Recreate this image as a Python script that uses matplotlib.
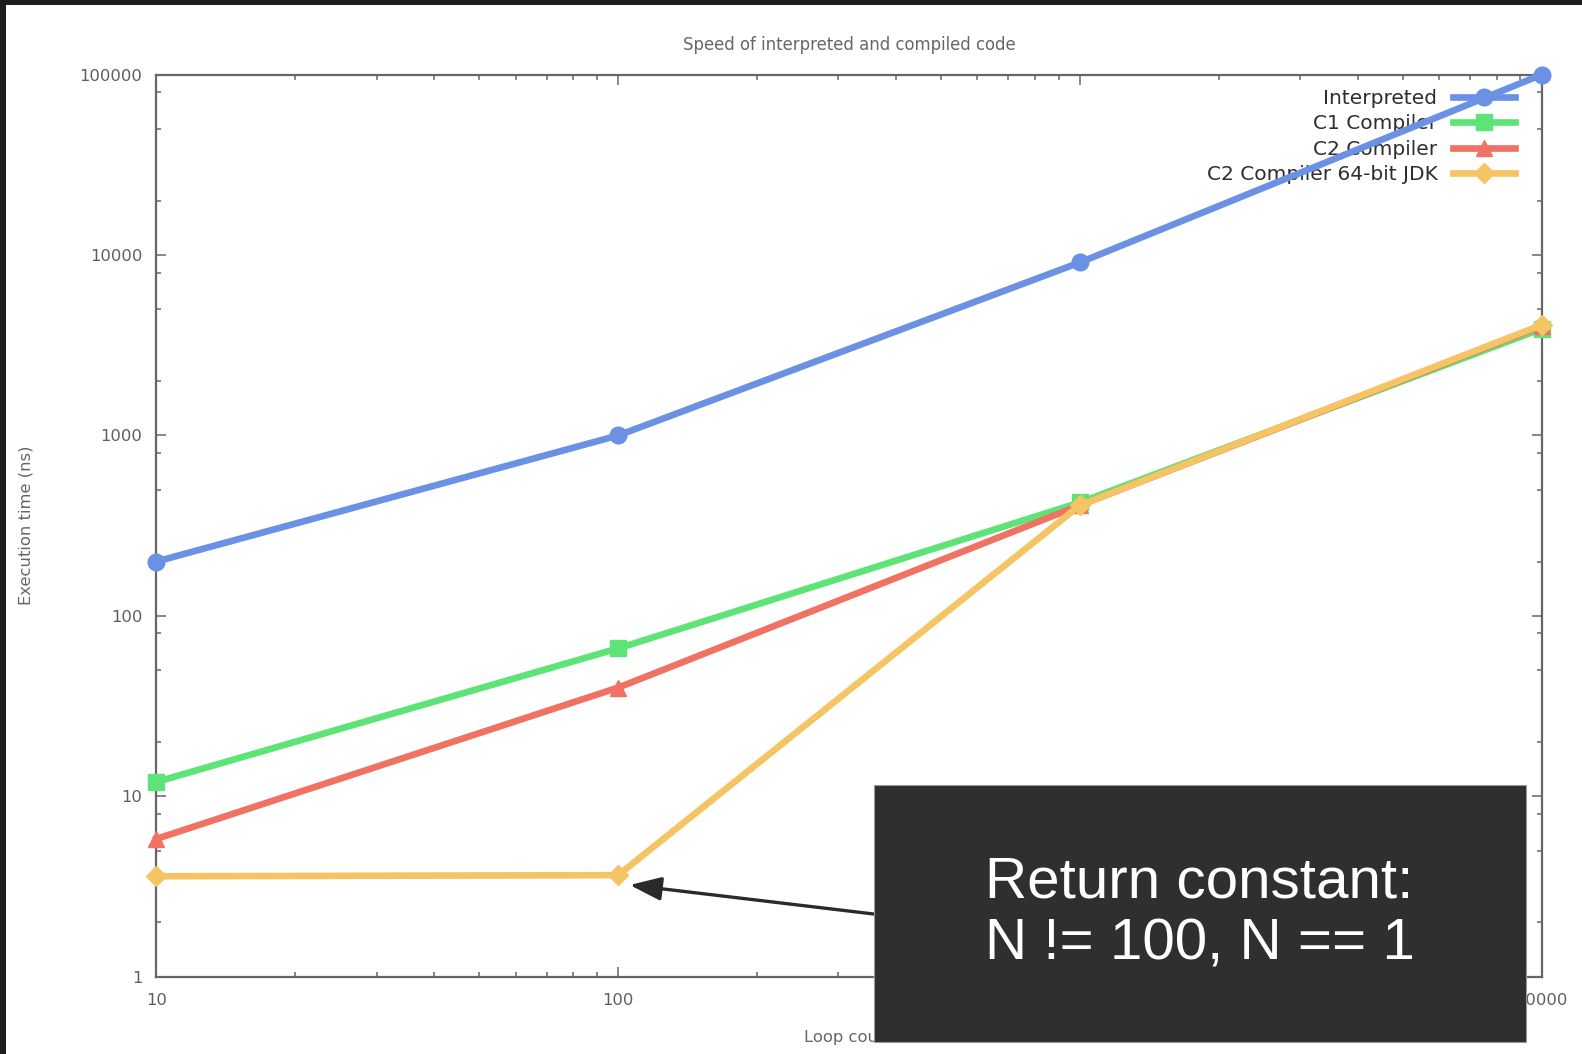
import matplotlib
matplotlib.use('Agg')
import matplotlib.pyplot as plt
from matplotlib.patches import Rectangle
from matplotlib.ticker import FixedLocator, FixedFormatter, NullFormatter

# loop counts and measured execution times (ns)
loop_count = [10, 100, 1000, 10000]
interpreted = [200, 1000, 9100, 100000]
c1_compiler = [12, 66, 425, 3900]
c2_compiler = [5.8, 40, 410, 4050]
c2_compiler_64 = [3.6, 3.65, 410, 4100]

series_names = ["Interpreted", "C1 Compiler", "C2 Compiler", "C2 Compiler 64-bit JDK"]
series_values = [interpreted, c1_compiler, c2_compiler, c2_compiler_64]
series_colors = ["#6a91e4", "#5ee476", "#f07262", "#f5c464"]
series_markers = ["o", "s", "^", "D"]
series_msize = [12, 11, 12, 10]

y_ticks = [1, 10, 100, 1000, 10000, 100000]
x_ticks = [10, 100, 1000, 10000]

W, H = 1582, 1054
fig = plt.figure(figsize=(W / 100, H / 100), dpi=100)
fig.patch.set_facecolor("#1e1e1e")
fig.add_artist(Rectangle((6 / W, 0), 1 - 6 / W, 1 - 5 / H, transform=fig.transFigure,
                         facecolor="white", edgecolor="none", zorder=-1))

ax_left, ax_right, ax_top, ax_bottom = 156.4, 1541.6, 74.7, 976.6
ax = fig.add_axes([ax_left / W, 1 - ax_bottom / H, (ax_right - ax_left) / W, (ax_bottom - ax_top) / H])

for name, vals, col, mk, ms in zip(series_names, series_values, series_colors, series_markers, series_msize):
    ax.plot(loop_count, vals, color=col, lw=4.8, marker=mk, markersize=ms,
            markeredgecolor=col, label=name, clip_on=False, zorder=3)

ax.set_xscale("log")
ax.set_yscale("log")
ax.set_xlim(10, 10000)
ax.set_ylim(1, 100000)

ax.xaxis.set_major_locator(FixedLocator(x_ticks))
ax.xaxis.set_major_formatter(FixedFormatter([str(v) for v in x_ticks]))
ax.xaxis.set_minor_locator(FixedLocator([m * 10 ** e for e in range(1, 4) for m in range(2, 10)]))
ax.xaxis.set_minor_formatter(NullFormatter())
ax.yaxis.set_major_locator(FixedLocator(y_ticks))
ax.yaxis.set_major_formatter(FixedFormatter([str(v) for v in y_ticks]))
ax.yaxis.set_minor_locator(FixedLocator([m * 10 ** e for e in range(0, 5) for m in (2, 5, 8)]))
ax.yaxis.set_minor_formatter(NullFormatter())

for s in ax.spines.values():
    s.set_color("#666666")
    s.set_linewidth(1.6)
ax.tick_params(which="both", direction="in", top=True, right=True, color="#666666",
               width=1.1, labelcolor="#5e5e5e", labelsize=11.8)
ax.tick_params(which="major", length=7.2)
ax.tick_params(which="minor", length=3.6)
ax.tick_params(axis="x", pad=12)
ax.tick_params(axis="y", pad=10)

ax.set_title("Speed of interpreted and compiled code", fontsize=11.9, color="#666666", pad=18)
ax.set_ylabel("Execution time (ns)", fontsize=11.8, color="#666666")
ax.yaxis.set_label_coords(-0.089, 0.5)
ax.set_xlabel("Loop count", fontsize=11.8, color="#666666")
ax.xaxis.set_label_coords(0.5, -0.059)

leg = ax.legend(loc="upper right", bbox_to_anchor=(1515 / W, 1 - 89 / H), bbox_transform=fig.transFigure,
                frameon=False, markerfirst=False, fontsize=14.5, handlelength=3.1,
                handletextpad=0.75, labelspacing=0.32, borderpad=0, borderaxespad=0)
for t in leg.get_texts():
    t.set_color("#2e2e2e")
leg.set_zorder(1)

# callout box with the arrow pointing at the flat 64-bit point
bx0, bx1, by0, by1 = 873.7, 1525.5, 785, 1042
fig.add_artist(Rectangle((bx0 / W, 1 - by1 / H), (bx1 - bx0) / W, (by1 - by0) / H,
                         transform=fig.transFigure, facecolor="#2f2f2f",
                         edgecolor="#9a9a9a", linewidth=0.8, zorder=10))
fig.text((bx0 + bx1) / 2 / W, 1 - (by0 + by1) / 2 / H, "Return constant:\nN != 100, N == 1",
         color="white", fontsize=42, family="Liberation Sans", ha="center", va="center",
         linespacing=1.18, zorder=11)

ax.annotate("", xy=(106, 3.22), xycoords="data",
            xytext=(bx0, H - 914), textcoords="figure pixels",
            arrowprops=dict(arrowstyle="-|>,head_length=0.8,head_width=0.3", mutation_scale=24,
                            color="#2a2a2a", lw=2.4, shrinkA=0, shrinkB=0),
            annotation_clip=False)

fig.savefig("out.png", dpi=100)
